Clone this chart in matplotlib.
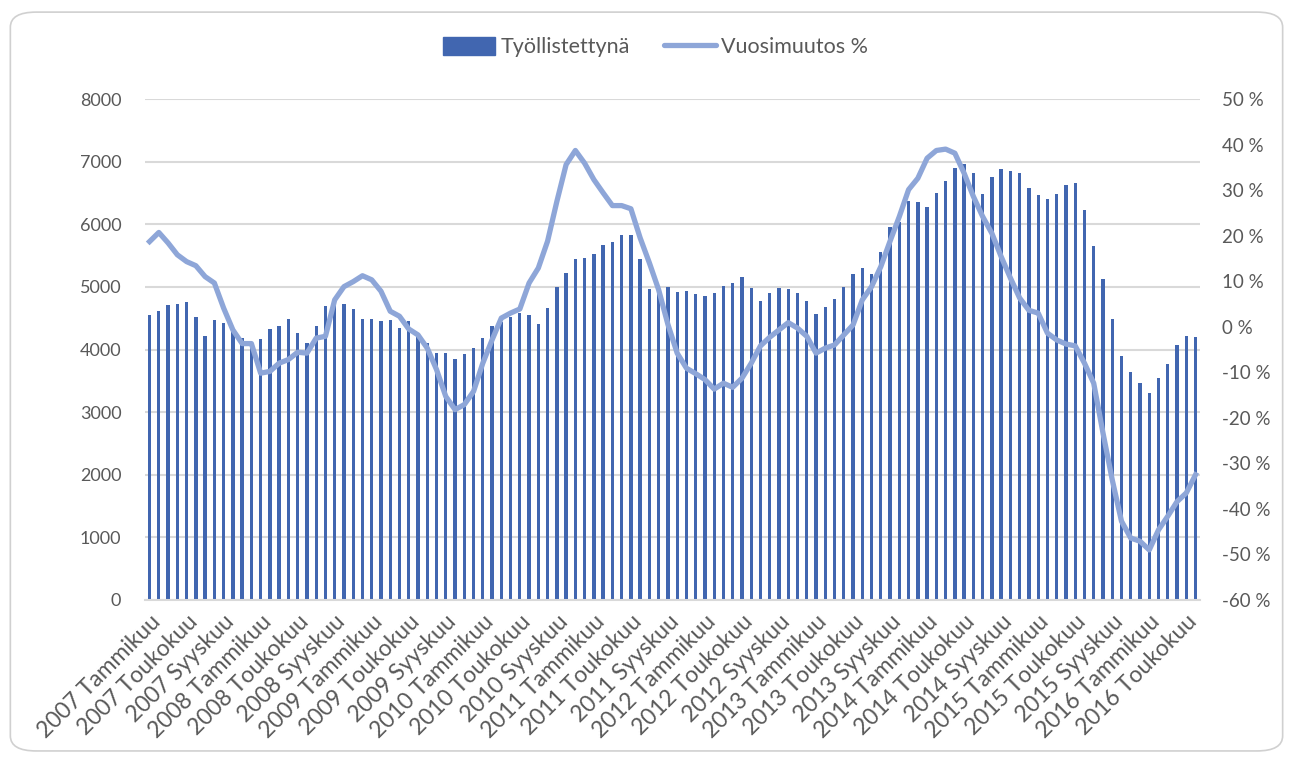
import matplotlib
matplotlib.use('Agg')
import matplotlib.pyplot as plt
from matplotlib.patches import FancyBboxPatch, Patch
from matplotlib.lines import Line2D
import numpy as np

# monthly data, 2007 Tammikuu .. 2016 Kesäkuu
years = list(range(2007, 2017))
month_names = ['Tammikuu', 'Helmikuu', 'Maaliskuu', 'Huhtikuu', 'Toukokuu', 'Kesäkuu',
               'Heinäkuu', 'Elokuu', 'Syyskuu', 'Lokakuu', 'Marraskuu', 'Joulukuu']

tyollistettyna = [4553, 4622, 4707, 4728, 4755, 4515, 4217, 4473, 4430, 4297, 4185, 4084,
                  4169, 4329, 4382, 4489, 4260, 4110, 4377, 4696, 4712, 4728, 4648, 4494,
                  4484, 4452, 4473, 4345, 4462, 4233, 4100, 3940, 3940, 3850, 3930, 4020,
                  4190, 4377, 4446, 4515, 4580, 4558, 4404, 4659, 4995, 5219, 5443, 5458,
                  5532, 5671, 5724, 5826, 5831, 5443, 4968, 5005, 4995, 4925, 4936, 4883,
                  4862, 4910, 5011, 5059, 5160, 4984, 4776, 4904, 4989, 4968, 4904, 4771,
                  4574, 4681, 4808, 4995, 5208, 5298, 5208, 5554, 5953, 6030, 6379, 6353,
                  6283, 6507, 6688, 6896, 6965, 6816, 6486, 6752, 6885, 6858, 6816, 6576,
                  6470, 6400, 6486, 6620, 6666, 6220, 5660, 5133, 4484, 3898, 3647, 3466,
                  3302, 3541, 3770, 4068, 4217, 4196]

vuosimuutos = [18.7, 20.7, 18.4, 15.8, 14.3, 13.4, 11.0, 9.6, 4.1, -0.7, -3.7, -3.7,
               -10.2, -9.8, -8.0, -7.2, -5.6, -5.8, -2.5, -2.1, 5.9, 8.8, 9.9, 11.2,
               10.3, 7.8, 3.4, 2.3, -0.5, -1.8, -4.7, -9.4, -15.3, -18.2, -17.1, -14.2,
               -8.0, -2.9, 1.9, 3.0, 3.9, 9.6, 12.9, 18.8, 27.5, 35.6, 38.7, 35.9,
               32.3, 29.4, 26.6, 26.6, 25.9, 19.5, 14.0, 8.1, 0.5, -5.8, -9.1, -10.3,
               -11.6, -13.7, -12.4, -13.3, -11.3, -8.0, -4.2, -2.3, -0.7, 0.9, -0.3, -2.1,
               -5.8, -4.7, -4.0, -1.8, 0.4, 5.9, 8.8, 13.2, 18.8, 24.2, 30.1, 32.6,
               37.0, 38.7, 39.0, 38.1, 33.7, 28.6, 24.2, 20.5, 15.4, 10.7, 6.3, 3.6,
               3.0, -1.4, -2.9, -3.8, -4.2, -8.0, -12.4, -23.3, -33.6, -42.7, -46.4, -47.1,
               -49.0, -44.6, -41.6, -38.4, -36.5, -32.5]

labels = ['%d %s' % (y, m) for y in years for m in month_names][:len(tyollistettyna)]

BAR = '#4166b0'
LINE = '#8ea6d8'
TXT = '#595959'
GRID = '#d9d9d9'
plt.rcParams['font.family'] = ['Lato', 'DejaVu Sans']

fig = plt.figure(figsize=(12.93, 7.57), dpi=100)
fig.patches.append(FancyBboxPatch((0.008, 0.008), 0.984, 0.976, boxstyle='round,pad=0,rounding_size=0.02',
                                  transform=fig.transFigure, fc='none', ec='#d0d0d0', lw=1.2, zorder=-1))

ax = fig.add_axes([0.1121, 0.2074, 0.8161, 0.6618])
x = np.arange(len(tyollistettyna))
ax.bar(x, tyollistettyna, width=0.36, color=BAR, zorder=2)
ax.set_xlim(-0.5, len(x) - 0.5)
ax.set_ylim(0, 8000)
ax.set_yticks(range(0, 8001, 1000))
ax.grid(axis='y', color=GRID, lw=1.5, zorder=0)
ax.set_axisbelow(True)
for s in ['top', 'left', 'right']:
    ax.spines[s].set_visible(False)
ax.spines['bottom'].set_color(GRID)
ax.spines['bottom'].set_linewidth(1.5)
ax.tick_params(axis='y', length=0, pad=17, labelsize=13, labelcolor=TXT)
ax.set_xticks(x[::4])
ax.set_xticklabels(labels[::4], rotation=45, ha='right', rotation_mode='anchor')
ax.tick_params(axis='x', length=0, pad=8, labelsize=16.5, labelcolor=TXT)

ax2 = ax.twinx()
ax2.plot(x, vuosimuutos, color=LINE, lw=3.8, solid_joinstyle='round', zorder=3)
ax2.set_ylim(-60, 50)
ax2.set_yticks(range(-60, 51, 10))
ax2.set_yticklabels(['%d %%' % v for v in range(-60, 51, 10)])
ax2.tick_params(axis='y', length=0, pad=16, labelsize=13.5, labelcolor=TXT)
for s in ['top', 'left', 'right', 'bottom']:
    ax2.spines[s].set_visible(False)

handles = [Patch(color=BAR), Line2D([0], [0], color=LINE, lw=3.8, solid_capstyle='round')]
fig.legend(handles, ['Työllistettynä', 'Vuosimuutos %'], loc='center', bbox_to_anchor=(0.507, 0.938),
           ncol=2, frameon=False, fontsize=15.5, labelcolor=TXT, handlelength=2.4,
           handleheight=0.9, columnspacing=1.6, handletextpad=0.25)

fig.savefig('out.png', dpi=100)
